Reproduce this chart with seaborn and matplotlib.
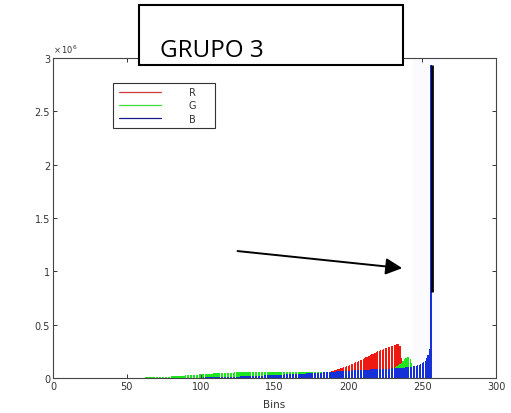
import numpy as np
import matplotlib
matplotlib.use('Agg')
import matplotlib.pyplot as plt
import seaborn as sns
from matplotlib.lines import Line2D
from matplotlib.patches import Rectangle

# histogram bins that hold anything (bins 1..49 are empty)
bins = list(range(50, 257))

# counts per bin, in thousands
red = [
    0, 0, 0, 1, 1, 1, 1, 2, 2, 2,
    2, 3, 3, 3, 3, 4, 4, 4, 4, 5,
    5, 5, 5, 6, 6, 6, 6, 7, 7, 7,
    7, 8, 8, 8, 8, 9, 9, 9, 9, 10,
    10, 10, 10, 11, 11, 11, 11, 12, 12, 12,
    12, 13, 13, 13, 14, 14, 14, 15, 15, 15,
    16, 16, 16, 17, 17, 17, 18, 18, 18, 19,
    19, 19, 20, 20, 20, 21, 21, 21, 22, 22,
    22, 23, 23, 23, 24, 24, 24, 25, 25, 25,
    26, 26, 27, 27, 28, 28, 29, 29, 30, 30,
    31, 31, 32, 32, 33, 33, 34, 34, 35, 35,
    36, 36, 37, 37, 38, 38, 39, 39, 40, 40,
    40, 40, 40, 40, 41, 41, 41, 41, 41, 41,
    41, 42, 44, 46, 48, 50, 53, 56, 60, 64,
    68, 72, 77, 82, 87, 92, 97, 102, 107, 112,
    117, 122, 128, 134, 140, 146, 152, 158, 165, 172,
    179, 186, 193, 200, 207, 214, 221, 228, 235, 242,
    249, 255, 261, 267, 273, 278, 283, 288, 293, 298,
    303, 308, 313, 318, 322, 300, 190, 90, 40, 30,
    20, 15, 10, 8, 6, 5, 4, 3, 3, 2,
    2, 2, 2, 1, 1, 1, 1,
]
green = [
    0, 0, 1, 1, 1, 2, 2, 2, 3, 3,
    3, 4, 4, 5, 5, 6, 6, 7, 7, 8,
    8, 9, 9, 10, 10, 11, 12, 12, 13, 14,
    15, 16, 16, 17, 18, 19, 20, 21, 22, 23,
    24, 25, 26, 27, 28, 29, 30, 31, 32, 33,
    34, 35, 36, 37, 38, 39, 40, 41, 42, 43,
    44, 45, 45, 46, 47, 47, 48, 49, 49, 50,
    50, 51, 51, 52, 52, 52, 53, 53, 53, 54,
    54, 54, 55, 55, 55, 55, 56, 56, 56, 56,
    57, 57, 57, 57, 57, 58, 58, 58, 58, 58,
    58, 58, 59, 59, 59, 59, 59, 59, 59, 59,
    59, 59, 59, 59, 59, 59, 59, 58, 58, 58,
    58, 58, 57, 57, 57, 56, 56, 56, 55, 55,
    54, 54, 53, 53, 52, 52, 51, 51, 50, 50,
    49, 49, 48, 48, 48, 47, 47, 47, 47, 47,
    47, 47, 47, 48, 48, 48, 49, 49, 50, 51,
    52, 53, 54, 55, 56, 58, 60, 62, 64, 66,
    68, 70, 72, 74, 76, 78, 80, 83, 86, 89,
    92, 96, 101, 108, 118, 130, 145, 160, 175, 188,
    196, 200, 180, 145, 110, 85, 70, 60, 55, 50,
    48, 46, 44, 42, 40, 38, 36,
]
blue = [
    0, 0, 0, 0, 0, 0, 0, 0, 1, 1,
    1, 1, 1, 1, 1, 1, 1, 1, 2, 2,
    2, 2, 2, 2, 2, 2, 2, 2, 2, 3,
    3, 3, 3, 3, 3, 3, 3, 3, 3, 3,
    4, 4, 4, 4, 4, 4, 4, 4, 4, 4,
    4, 4, 5, 5, 5, 6, 6, 6, 7, 7,
    7, 8, 8, 8, 9, 9, 10, 10, 10, 11,
    11, 12, 12, 13, 13, 14, 14, 15, 15, 16,
    16, 17, 17, 18, 18, 19, 19, 20, 21, 21,
    22, 22, 23, 24, 24, 25, 26, 26, 27, 28,
    28, 29, 30, 30, 31, 32, 32, 33, 34, 34,
    35, 36, 36, 37, 38, 38, 39, 40, 40, 41,
    42, 42, 43, 44, 44, 45, 46, 46, 47, 48,
    49, 50, 51, 52, 53, 54, 55, 56, 57, 58,
    59, 60, 61, 62, 63, 64, 65, 66, 67, 68,
    69, 70, 70, 71, 72, 73, 73, 74, 75, 76,
    76, 77, 78, 78, 79, 80, 80, 81, 82, 83,
    83, 84, 85, 85, 86, 87, 88, 88, 89, 90,
    90, 91, 92, 93, 94, 95, 96, 97, 98, 99,
    100, 102, 104, 106, 108, 111, 114, 118, 123, 129,
    137, 148, 163, 185, 220, 270, 2930,
]

series_names = ['R', 'G', 'B']
bar_colors = ['#ee1a12', '#1ee61e', '#1430d6']
legend_colors = ['#cc3a3a', '#3ddd3d', '#1a1a8c']

x_ticks = [0, 50, 100, 150, 200, 250, 300]
y_ticks = [0, 0.5, 1, 1.5, 2, 2.5, 3]
y_tick_labels = ['0', '0.5', '1', '1.5', '2', '2.5', '3']

# annotation stuff drawn over the plot
spike_bin = 256
black_bar_low, black_bar_high = 0.805, 2.93
band_lo, band_hi = 243.5, 262
arrow_start = (125, 1.19)
arrow_tip = (236.5, 1.03)

sns.set_style('ticks')
plt.rcParams['font.family'] = ['DejaVu Sans']
plt.rcParams['xtick.direction'] = 'in'
plt.rcParams['ytick.direction'] = 'in'

W, H = 511, 414
fig = plt.figure(figsize=(W / 100, H / 100), dpi=100)
ax = fig.add_axes([53 / W, 1 - 379 / H, 443 / W, 320 / H])

# faint shading left around the spike
ax.axvspan(band_lo, band_hi, color='#fbfafe', lw=0, zorder=0)

# values in millions
for vals, col in zip([red, green, blue], bar_colors):
    sns.barplot(x=bins, y=np.array(vals) / 1000.0, native_scale=True, color=col,
                saturation=1, width=0.8, linewidth=0, errorbar=None, ax=ax)

ax.set_xlim(0, 300)
ax.set_ylim(0, 3)
ax.set_xticks(x_ticks)
ax.set_xticklabels([str(t) for t in x_ticks])
ax.set_yticks(y_ticks)
ax.set_yticklabels(y_tick_labels)
ax.tick_params(axis='both', labelsize=7, colors='#333333', length=3, width=0.7,
               top=True, right=True, pad=2)
for s in ax.spines.values():
    s.set_visible(True)
    s.set_color('#444444')
    s.set_linewidth(0.8)
ax.set_xlabel('Bins', fontsize=7.5, color='#333333', labelpad=6)
ax.set_ylabel('')
ax.text(0.0, 1.01, r'$\times\,10^{6}$', transform=ax.transAxes, fontsize=6,
        color='#333333', ha='left', va='bottom')

# legend without its own frame, frame drawn as a box
handles = [Line2D([0], [0], color=c, lw=0.9) for c in legend_colors]
leg = ax.legend(handles, series_names, loc='upper left',
                bbox_to_anchor=(117 / W, 1 - 86 / H), bbox_transform=fig.transFigure,
                fontsize=7, handlelength=4.3, handletextpad=2.9, labelspacing=0.35,
                borderpad=0.2, borderaxespad=0, frameon=False)
for t in leg.get_texts():
    t.set_color('#333333')
leg_box = Rectangle((113 / W, 1 - 129 / H), 102 / W, 45 / H, transform=fig.transFigure,
                    facecolor='none', edgecolor='#333333', lw=0.8, zorder=6)
fig.patches.append(leg_box)

ax.vlines(spike_bin + 0.5, black_bar_low, black_bar_high, color='black', lw=2, zorder=5)
ax.annotate('', xy=arrow_tip, xytext=arrow_start,
            arrowprops=dict(arrowstyle='-|>', color='black', lw=1.4, mutation_scale=25,
                            shrinkA=0, shrinkB=0))

# GRUPO 3 box on top of the figure
box = Rectangle((139 / W, 1 - 66 / H), 264 / W, 60 / H, transform=fig.transFigure,
                facecolor='white', edgecolor='black', lw=1.5, zorder=10)
fig.patches.append(box)
fig.text(160 / W, 1 - 57 / H, 'GRUPO 3', fontsize=17.5, color='black',
         family=['Open Sans', 'DejaVu Sans'], ha='left', va='baseline', zorder=11)

fig.savefig('out.png', dpi=100)
